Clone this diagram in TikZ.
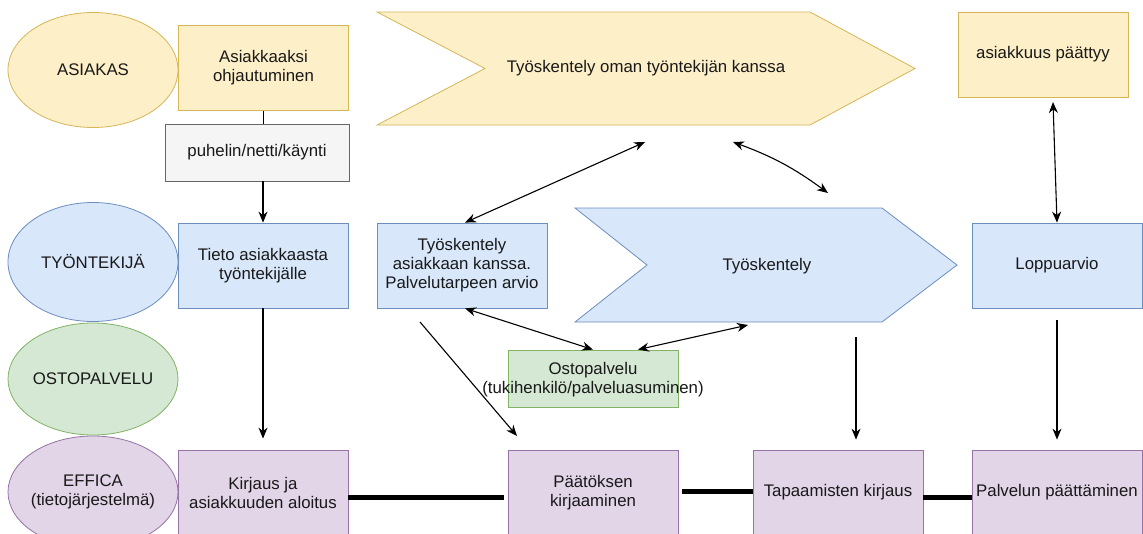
\documentclass[tikz,border=0pt]{standalone}
\usepackage{fontspec}
\setmainfont{Liberation Sans}
\usetikzlibrary{arrows.meta,shapes.geometric,positioning}

\definecolor{ylwfill}{HTML}{FDEFC8}\definecolor{ylwline}{HTML}{D6B656}
\definecolor{blufill}{HTML}{D8E7FA}\definecolor{bluline}{HTML}{6C8EBF}
\definecolor{grnfill}{HTML}{D5E8D4}\definecolor{grnline}{HTML}{82B366}
\definecolor{prpfill}{HTML}{E1D5E7}\definecolor{prpline}{HTML}{9673A6}
\definecolor{gryfill}{HTML}{F5F5F5}\definecolor{gryline}{HTML}{666666}

\tikzset{
	lbl/.style={font=\fontsize{16.8}{19}\selectfont, align=center, text=black!90, inner sep=1pt},
	lane/.style={ellipse, draw, minimum width=170pt, line width=.8pt},
	box/.style={lbl, rectangle, draw, minimum width=170pt, minimum height=85pt, line width=.8pt},
	ylw/.style={fill=ylwfill, draw=ylwline}, blu/.style={fill=blufill, draw=bluline},
	grn/.style={fill=grnfill, draw=grnline}, prp/.style={fill=prpfill, draw=prpline},
	gry/.style={fill=gryfill, draw=gryline},
	arr/.style={-{Stealth[length=11pt,width=9pt]}, line width=1.1pt},
	darr/.style={{Stealth[length=11pt,width=9pt]}-{Stealth[length=11pt,width=9pt]}, line width=1.1pt},
	bar/.style={line width=5pt}
}

\begin{document}
\begin{tikzpicture}[x=1pt,y=-1pt]
			\path[use as bounding box, fill=white] (0,0) rectangle (1143,533);
			\clip (0,0) rectangle (1143,533);

			\node[lane, ylw, minimum height=115pt, label={[lbl]center:ASIAKAS}] (asiakas) at (93,70) {};
			\node[lane, blu, minimum height=119pt, label={[lbl]center:TYÖNTEKIJÄ}] (tyontekija) at (93,262) {};
			\node[lane, grn, minimum height=112pt, label={[lbl]center:OSTOPALVELU}] (ostopalvelu) at (93,379) {};
			\node[lane, prp, minimum height=112pt, label={[lbl]center:EFFICA\\(tietojärjestelmä)}] (effica) at (93,492) {};

			\draw[ylw, line width=.8pt] (377,12) -- (810,12) -- (915,68.5) -- (810,125) -- (377,125) -- (485,68.5) -- cycle;
			\node[lbl] (yhteistyo) at (646,68) {Työskentely oman työntekijän kanssa};
			\draw[blu, line width=.8pt] (575,208) -- (882,208) -- (957,265) -- (882,322) -- (575,322) -- (647,265) -- cycle;
			\node[lbl] (tyoskentely) at (767,266) {Työskentely};

			\node[box, ylw] (ohjautuminen) at (263.5,68) {Asiakkaaksi\\ohjautuminen};
			\node[box, gry, minimum width=184pt, minimum height=57pt] (yhteys) at (257,152.5) {puhelin/netti/käynti};
			\node[box, ylw] (paattyy) at (1043,54.5) {asiakkuus päättyy};
			\node[box, blu] (tieto) at (263,265.5) {Tieto asiakkaasta\\työntekijälle};
			\node[box, blu] (arvio) at (462,265.5) {Työskentely\\asiakkaan kanssa.\\Palvelutarpeen arvio};
			\node[box, blu] (loppuarvio) at (1057,265.5) {Loppuarvio};
			\node[box, grn, minimum height=57pt] (osto) at (593,378.5) {};
			\node[lbl] (ostoteksti) at (593,380) {Ostopalvelu\\(tukihenkilö/palveluasuminen)};
			\node[box, prp] (kirjaus) at (263,492.5) {Kirjaus ja\\asiakkuuden aloitus};
			\node[box, prp] (paatos) at (593,492.5) {Päätöksen\\kirjaaminen};
			\node[box, prp] (tapaamiset) at (838,492.5) {Tapaamisten kirjaus};
			\node[box, prp] (lopetus) at (1057,492.5) {Palvelun päättäminen};

			\coordinate (oma1) at (645,142); \coordinate (oma2) at (733,142);
			\coordinate (tyo1) at (828,193); \coordinate (tyo2) at (748,325); \coordinate (tyo3) at (856,337);
			\coordinate (loppu1) at (1053,102);
			\coordinate (vino1) at (420,322); \coordinate (vino2) at (517,436);

			\draw[line width=1.1pt] (ohjautuminen.south) -- (ohjautuminen.south |- yhteys.north);
			\draw[arr] (tieto.north |- yhteys.south) -- (tieto.north);
			\draw[arr, shorten >=11pt] (tieto.south) -- (kirjaus.north);
			\draw[darr] ([xshift=3pt]arvio.north) -- (oma1);
			\draw[darr] (oma2) to[bend left=8] (tyo1);
			\draw[darr] (loppu1) -- (loppuarvio.north);
			\draw[darr] ([xshift=3pt]arvio.south) -- (osto.north);
			\draw[darr] ([xshift=45pt]osto.north) -- (tyo2);
			\draw[arr] (vino1) -- (vino2);
			\draw[arr, shorten >=10pt] (tyo3) -- (tyo3 |- tapaamiset.north);
			\draw[arr, shorten <=12pt, shorten >=10pt] (loppuarvio.south) -- (lopetus.north);

			\draw[bar] ([yshift=-5pt]kirjaus.east) -- ([yshift=-5pt,xshift=-4pt]paatos.west);
			\draw[bar] ([yshift=1pt,xshift=4pt]paatos.east) -- ([yshift=1pt]tapaamiset.west);
			\draw[bar] ([yshift=-5pt]tapaamiset.east) -- ([yshift=-5pt]lopetus.west);
\end{tikzpicture}
\end{document}
